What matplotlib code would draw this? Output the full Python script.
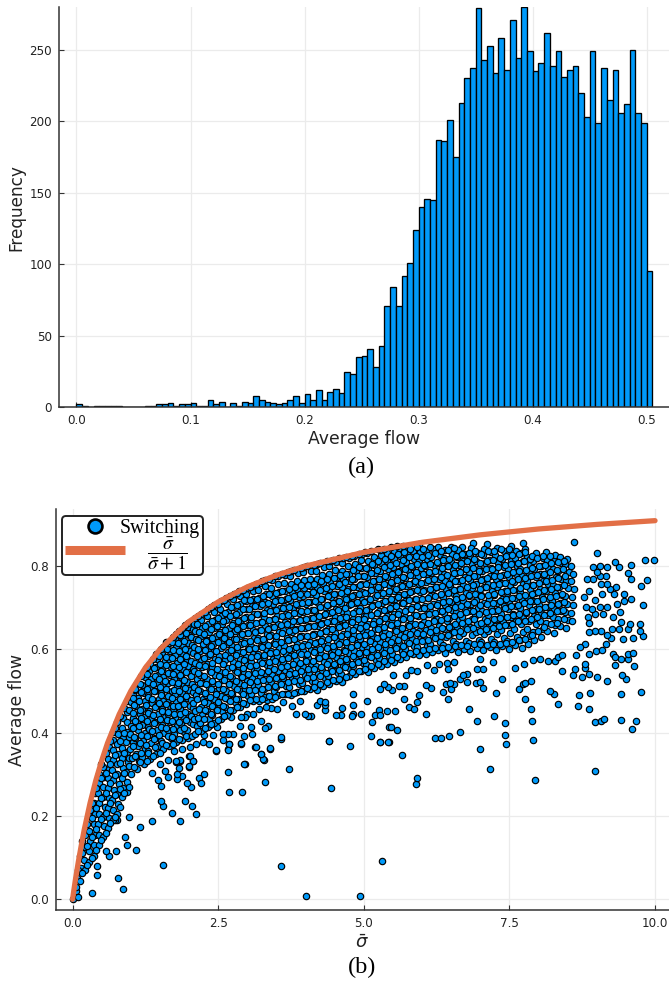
import numpy as np
import matplotlib
matplotlib.use("Agg")
import matplotlib.pyplot as plt
from matplotlib.font_manager import FontProperties
from matplotlib.lines import Line2D

# ---- panel (a): histogram of average flow ----
bin_width = 0.005
counts_low = [2,1,0,1,1,1,1,1,0,0,0,0,1,1,2,2,3,1,2,2,3,1,1,5,2,4,0,3,1,4,3,8,5,4,3,2,3,5,8,3,9,5,12,5,11,13,10,
              25,23,35,36,41,28,43,71,84,71,92,101,124]
counts_high = [140,146,145,187,186,201,175,213,230,237,279,243,253,234,258,236,271,244,280,249,235,241,262,239,249,
               231,236,239,220,203,249,199,237,215,236,206,212,250,206,199,95]
hist_xticks = [0.0, 0.1, 0.2, 0.3, 0.4, 0.5]
hist_yticks = [0, 50, 100, 150, 200, 250]

# ---- panel (b): points, as x*100, y*1000 pairs ----
sparse_low = [0,0, 5,20, 10,5, 33,16, 87,24, 78,52, 42,59, 42,81, 155,83, 357,81, 400,7, 494,7, 532,92,
 109,118, 93,131, 90,150, 75,117, 62,103, 57,115, 116,174, 137,188, 184,187, 170,208, 212,204, 205,224, 193,236,
 156,223, 152,235, 97,197, 77,190, 73,190, 269,257, 291,257, 330,281, 443,266, 266,306, 296,324, 371,314,
 226,300, 217,292, 221,279, 204,269, 196,279, 187,297, 179,288, 179,300, 164,293, 159,308, 152,272, 146,286,
 206,332, 200,344, 200,318, 183,316, 184,332, 177,330, 164,334, 150,325, 137,303, 324,348, 329,334, 339,362,
 314,365, 247,357, 267,360, 269,373, 290,374, 477,369, 441,380, 528,377, 543,377, 358,385]
sparse_mid = [295,325, 327,336, 324,349, 315,366, 339,364, 358,389, 440,381, 513,392, 527,378, 541,378, 543,414,
 514,426, 520,442, 526,454, 528,442, 496,444, 505,475, 482,494, 482,466, 482,444, 479,441, 462,460, 461,442,
 453,442, 434,454, 434,466, 419,466, 425,476, 433,474, 410,441, 405,441, 399,446, 384,445, 390,476, 376,464,
 362,473, 351,457, 340,459, 332,461, 320,456, 336,489, 333,478, 309,446, 300,446, 296,437, 290,437, 324,428,
 335,416, 330,412, 306,414, 308,397, 294,393, 289,376, 287,416, 269,373, 267,358, 247,358, 276,397, 266,398,
 259,397, 259,382, 248,413, 236,418, 272,438, 260,441, 241,394, 235,373, 226,394, 224,378, 212,374, 201,366,
 188,360, 174,356, 201,345, 206,333, 200,321, 185,334, 177,332]
sparse_right = [590,276, 591,290, 566,347, 794,286, 897,308, 717,314, 699,362, 744,374, 742,395, 790,383, 623,387,
 632,388, 647,392, 666,401, 557,407, 546,413, 694,429, 723,439, 742,424, 788,427, 897,426, 908,427, 912,432,
 941,430, 968,428, 961,410, 681,456, 787,456, 607,446, 540,451, 554,451, 578,462, 587,458, 592,474, 595,490,
 569,481, 868,463, 887,458, 833,469, 776,482, 645,481, 976,498, 941,494, 889,495, 870,491, 827,493, 820,501,
 727,496, 636,498, 704,507, 616,508, 606,515, 569,512, 560,512, 548,502, 542,509, 535,517, 528,506, 649,506,
 655,518, 641,517, 648,520, 666,528, 677,521, 692,519, 700,522, 738,530, 767,506, 774,517, 777,520, 787,524,
 918,524, 950,528, 944,538, 901,534, 875,533, 860,538, 862,552, 886,542, 841,548, 880,556, 879,566, 677,542,
 671,538, 759,556, 722,569, 705,554, 694,553, 621,551, 592,548, 581,551, 573,538, 550,538, 609,563, 629,566,
 644,552, 654,570, 642,568, 699,576, 775,564, 790,574, 803,576, 816,572, 829,573, 833,582, 841,586, 865,586,
 886,590, 898,597, 909,598, 928,590, 932,582, 932,563, 942,576, 954,578, 954,590, 963,592, 964,561, 916,613,
 880,614, 871,606, 980,633, 975,644, 975,662, 963,627, 945,625, 925,627, 917,634, 908,645, 897,645, 887,642,
 926,650, 938,650, 954,648, 957,661, 942,666, 928,678, 940,690, 980,706, 935,709, 958,722, 947,716, 946,734,
 930,734, 933,749, 922,746, 976,752, 987,766, 959,768, 953,784, 959,802, 939,798, 932,809, 918,798, 905,801,
 894,798, 901,832, 982,815, 998,815, 861,858, 916,776, 905,776, 894,770, 884,770, 908,758, 900,786, 917,758,
 909,734, 897,718, 905,701, 917,701, 910,686, 897,686, 886,741, 881,702, 891,698, 885,678, 887,664, 878,726,
 668,845, 687,855, 711,854, 752,847, 774,855, 777,842]
cloud_a = [5,30, 7,50, 13,45, 14,75, 12,105, 21,70, 20,95, 22,125, 21,155, 29,90, 28,115, 30,140, 29,165, 28,200, 30,215,
 37,105, 36,130, 38,155, 37,180, 39,205, 36,230, 38,255, 45,130, 46,155, 44,180, 46,205, 45,230, 44,255, 46,280, 45,300,
 53,150, 54,175, 52,198, 55,222, 53,246, 52,270, 54,294, 53,318, 61,170, 62,195, 60,218, 63,242, 61,266, 60,290, 62,314, 61,338, 62,365,
 69,190, 70,214, 68,238, 71,262, 69,286, 68,310, 70,334, 69,358, 70,382, 69,402, 77,205, 78,229, 76,253, 79,277, 77,301, 76,325, 78,349, 77,373, 78,397, 77,425,
 85,245, 86,268, 84,292, 87,316, 85,340, 84,364, 86,388, 85,412, 86,436, 93,258, 94,281, 92,305, 95,329, 93,353, 92,377, 94,401, 93,425, 94,449, 93,475,
 9,70, 17,62, 17,110, 17,140, 25,82, 25,128, 25,180, 33,100, 33,150, 33,196, 33,232, 41,118, 41,168, 41,218, 41,268, 49,142, 49,192, 49,242, 49,292, 49,326,
 57,160, 57,208, 57,256, 57,304, 57,352, 65,182, 65,230, 65,278, 65,326, 65,380, 73,198, 73,250, 73,298, 73,346, 73,412, 81,222, 81,264, 81,328, 81,380, 81,440,
 89,256, 89,304, 89,352, 89,400, 89,460, 97,270, 97,340, 97,390, 97,484]
cloud_b = [100,302, 97,321, 102,339, 99,360, 103,378, 98,398, 101,417, 104,436, 97,455, 100,474, 103,493,
 111,312, 114,331, 109,350, 112,369, 108,388, 113,407, 110,426, 115,445, 109,464, 112,483, 108,502, 111,520,
 122,325, 119,342, 124,362, 121,381, 125,400, 120,419, 123,438, 119,457, 124,476, 122,495, 120,514, 125,533, 122,546,
 133,338, 130,357, 135,376, 132,395, 129,414, 134,433, 131,452, 136,471, 130,490, 133,509, 135,528, 131,547, 133,566,
 144,349, 147,368, 142,387, 145,406, 141,425, 146,444, 143,463, 148,482, 142,501, 145,520, 147,539, 143,558, 145,577, 144,588,
 155,362, 152,381, 157,400, 154,419, 158,438, 153,457, 156,476, 152,495, 157,514, 155,533, 153,552, 158,571, 154,590, 156,606,
 166,368, 169,387, 164,406, 167,425, 163,444, 168,463, 165,482, 170,501, 164,520, 167,539, 169,558, 165,577, 168,596, 166,615,
 177,378, 174,397, 179,416, 176,435, 172,454, 178,473, 175,492, 180,511, 174,530, 177,549, 179,568, 175,587, 178,606, 176,625, 177,637,
 188,382, 191,401, 186,420, 189,439, 185,458, 190,477, 187,496, 192,515, 186,534, 189,553, 191,572, 187,591, 190,610, 188,629, 187,650,
 199,388, 196,407, 201,426, 198,445, 202,464, 197,483, 200,502, 196,521, 201,540, 199,559, 197,578, 202,597, 198,616, 200,635, 199,654, 198,664]
cloud_b2 = [105,318, 107,345, 103,368, 106,389, 104,411, 107,429, 103,447, 106,466, 104,484, 107,505,
 116,330, 118,352, 115,375, 117,394, 114,416, 118,436, 116,454, 114,475, 117,498, 115,517, 117,536,
 127,333, 129,352, 126,371, 128,391, 131,409, 127,428, 129,447, 126,466, 130,485, 127,505, 129,522, 127,541, 128,558,
 138,345, 141,366, 139,385, 137,405, 140,424, 138,443, 141,461, 137,480, 140,499, 138,518, 141,537, 139,556, 138,578,
 150,352, 153,376, 149,395, 152,414, 150,433, 153,452, 149,471, 152,490, 150,509, 148,528, 152,547, 150,566, 149,585, 151,600,
 161,371, 163,392, 160,411, 162,430, 164,449, 160,468, 163,487, 161,506, 159,525, 163,544, 161,563, 160,582, 162,601, 161,617,
 172,372, 171,389, 173,410, 171,427, 174,446, 172,465, 170,484, 174,503, 171,522, 173,541, 172,560, 170,579, 173,598, 171,617, 172,630,
 183,386, 185,406, 182,425, 184,444, 181,463, 185,482, 183,501, 181,520, 184,539, 182,558, 185,577, 183,596, 181,615, 184,634, 183,645,
 194,392, 192,412, 195,431, 193,450, 191,469, 195,488, 193,507, 191,526, 194,545, 192,564, 195,583, 193,602, 191,621, 194,640, 193,658,
 205,393, 207,421, 204,440, 206,459, 203,478, 207,497, 205,516, 203,535, 206,554, 204,573, 207,592, 205,611, 203,630, 206,649, 205,668]
cloud_c = [210,396, 213,415, 208,434, 211,453, 207,472, 212,491, 209,510, 214,529, 208,548, 211,567, 213,586, 209,605, 212,624, 210,643, 209,662, 211,675,
 221,405, 218,424, 223,443, 220,462, 224,481, 219,500, 222,519, 218,538, 223,557, 221,576, 219,595, 224,614, 220,633, 222,652, 221,671, 220,686,
 232,414, 235,433, 230,452, 233,471, 229,490, 234,509, 231,528, 236,547, 230,566, 233,585, 235,604, 231,623, 234,642, 232,661, 231,680, 233,697,
 243,424, 240,443, 245,462, 242,481, 246,500, 241,519, 244,538, 240,557, 245,576, 243,595, 241,614, 246,633, 242,652, 244,671, 243,690, 242,706,
 254,432, 257,451, 252,470, 255,489, 251,508, 256,527, 253,546, 258,565, 252,584, 255,603, 257,622, 253,641, 256,660, 254,679, 253,698, 255,715,
 265,442, 262,461, 267,480, 264,499, 268,518, 263,537, 266,556, 262,575, 267,594, 265,613, 263,632, 268,651, 264,670, 266,689, 265,708, 264,724,
 276,455, 279,474, 274,493, 277,512, 273,531, 278,550, 275,569, 280,588, 274,607, 277,626, 279,645, 275,664, 278,683, 276,702, 275,721, 277,732,
 287,462, 284,481, 289,500, 286,519, 290,538, 285,557, 288,576, 284,595, 289,614, 287,633, 285,652, 290,671, 286,690, 288,709, 287,728, 286,740,
 298,468, 301,487, 296,506, 299,525, 295,544, 300,563, 297,582, 302,601, 296,620, 299,639, 301,658, 297,677, 300,696, 298,715, 297,734, 299,747]
cloud_c2 = [216,403, 215,435, 217,458, 214,481, 216,502, 218,520, 215,544, 217,563, 214,583, 216,601, 215,622, 217,641, 214,660, 216,680,
 227,412, 226,433, 228,455, 225,474, 227,495, 229,517, 226,536, 228,559, 225,579, 227,598, 229,619, 226,638, 228,657, 227,690,
 238,421, 237,444, 239,465, 236,486, 238,505, 240,523, 237,545, 239,568, 236,589, 238,608, 240,627, 237,648, 239,667, 238,701,
 249,430, 248,454, 250,473, 247,494, 249,516, 251,535, 248,554, 250,575, 247,597, 249,618, 251,637, 248,656, 250,675, 249,710,
 260,441, 259,463, 261,484, 258,505, 260,526, 262,545, 259,566, 261,587, 258,608, 260,627, 262,646, 259,667, 261,688, 260,719,
 271,455, 270,476, 272,495, 269,516, 271,537, 273,558, 270,579, 272,598, 269,617, 271,638, 273,659, 270,680, 272,701, 271,727,
 282,462, 281,481, 283,505, 280,524, 282,545, 284,566, 281,587, 283,606, 280,625, 282,648, 284,667, 281,686, 283,707, 282,735,
 293,472, 292,493, 294,514, 291,533, 293,556, 295,575, 292,594, 294,615, 291,636, 293,657, 295,676, 292,697, 294,718, 293,743]
cloud_d = [309,475, 306,494, 311,513, 308,532, 312,551, 307,570, 310,589, 306,608, 311,627, 309,646, 307,665, 312,684, 308,703, 310,722, 309,741, 308,753,
 320,476, 323,495, 318,514, 321,533, 317,552, 322,571, 319,590, 324,609, 318,628, 321,647, 323,666, 319,685, 322,704, 320,723, 319,742, 321,760,
 331,486, 328,505, 333,524, 330,543, 334,562, 329,581, 332,600, 328,619, 333,638, 331,657, 329,676, 334,695, 330,714, 332,733, 331,752, 330,766,
 342,482, 345,501, 340,520, 343,539, 339,558, 344,577, 341,596, 346,615, 340,634, 343,653, 345,672, 341,691, 344,710, 342,729, 341,748, 343,767,
 353,490, 350,509, 355,528, 352,547, 356,566, 351,585, 354,604, 350,623, 355,642, 353,661, 351,680, 356,699, 352,718, 354,737, 353,756, 352,775,
 364,494, 367,513, 362,532, 365,551, 361,570, 366,589, 363,608, 368,627, 362,646, 365,665, 367,684, 363,703, 366,722, 364,741, 363,760, 365,779,
 375,490, 372,509, 377,528, 374,547, 378,566, 373,585, 376,604, 372,623, 377,642, 375,661, 373,680, 378,699, 374,718, 376,737, 375,756, 374,775, 375,787,
 386,498, 389,517, 384,536, 387,555, 383,574, 388,593, 385,612, 390,631, 384,650, 387,669, 389,688, 385,707, 388,726, 386,745, 385,764, 387,783,
 397,500, 394,519, 399,538, 396,557, 400,576, 395,595, 398,614, 394,633, 399,652, 397,671, 395,690, 400,709, 396,728, 398,747, 397,766, 396,785, 398,797]
cloud_d2 = [304,478, 303,503, 305,522, 302,541, 304,560, 306,581, 303,600, 305,619, 302,640, 304,659, 306,678, 303,697, 305,718, 304,750,
 315,482, 314,503, 316,524, 313,543, 315,562, 317,583, 314,604, 316,623, 313,642, 315,663, 317,684, 314,703, 316,722, 315,757,
 326,481, 325,506, 327,527, 324,546, 326,567, 328,586, 325,605, 327,626, 324,647, 326,666, 328,687, 325,708, 327,727, 326,763,
 337,488, 336,509, 338,528, 335,549, 337,570, 339,591, 336,610, 338,631, 335,650, 337,671, 339,692, 336,711, 338,732, 337,769,
 348,486, 347,511, 349,532, 346,553, 348,572, 350,593, 347,614, 349,633, 346,654, 348,673, 350,694, 347,715, 349,736, 348,775,
 359,492, 358,517, 360,536, 357,557, 359,578, 361,597, 358,618, 360,639, 357,658, 359,679, 361,700, 358,719, 360,740, 359,780,
 370,492, 369,521, 371,542, 368,561, 370,580, 372,601, 369,622, 371,643, 368,662, 370,683, 372,702, 369,723, 371,744, 370,785,
 381,496, 380,523, 382,544, 379,565, 381,586, 383,605, 380,626, 382,647, 379,668, 381,687, 383,708, 380,729, 382,750, 381,790,
 392,500, 391,527, 393,548, 390,567, 392,588, 394,609, 391,630, 393,651, 390,670, 392,691, 394,712, 391,733, 393,754, 392,795]
cloud_e = [408,504, 411,523, 406,542, 409,561, 405,580, 410,599, 407,618, 412,637, 406,656, 409,675, 411,694, 407,713, 410,732, 408,751, 407,770, 409,789,
 419,503, 416,522, 421,541, 418,560, 422,579, 417,598, 420,617, 416,636, 421,655, 419,674, 417,693, 422,712, 418,731, 420,750, 419,769, 418,788, 420,805,
 430,512, 433,531, 428,550, 431,569, 427,588, 432,607, 429,626, 434,645, 428,664, 431,683, 433,702, 429,721, 432,740, 430,759, 429,778, 431,797,
 441,516, 438,535, 443,554, 440,573, 444,592, 439,611, 442,630, 438,649, 443,668, 441,687, 439,706, 444,725, 440,744, 442,763, 441,782, 440,801, 442,813,
 452,525, 455,544, 450,563, 453,582, 449,601, 454,620, 451,639, 456,658, 450,677, 453,696, 455,715, 451,734, 454,753, 452,772, 451,791, 453,810,
 463,522, 460,541, 465,560, 462,579, 466,598, 461,617, 464,636, 460,655, 465,674, 463,693, 461,712, 466,731, 462,750, 464,769, 463,788, 462,807, 464,820,
 474,535, 477,554, 472,573, 475,592, 471,611, 476,630, 473,649, 478,668, 472,687, 475,706, 477,725, 473,744, 476,763, 474,782, 473,801, 475,820,
 485,540, 482,559, 487,578, 484,597, 488,616, 483,635, 486,654, 482,673, 487,692, 485,711, 483,730, 488,749, 484,768, 486,787, 485,806, 484,825,
 496,548, 499,567, 494,586, 497,605, 493,624, 498,643, 495,662, 500,681, 494,700, 497,719, 499,738, 495,757, 498,776, 496,795, 495,814, 497,830]
cloud_e2 = [403,508, 402,531, 404,552, 401,571, 403,590, 405,611, 402,632, 404,653, 401,672, 403,693, 405,714, 402,733, 404,754, 403,799,
 414,510, 413,533, 415,552, 412,573, 414,594, 416,615, 413,634, 415,655, 412,676, 414,695, 416,716, 413,737, 415,758, 414,803,
 425,518, 424,537, 426,558, 423,579, 425,600, 427,619, 424,640, 426,661, 423,680, 425,701, 427,722, 424,743, 426,764, 425,808,
 436,521, 435,544, 437,565, 434,584, 436,603, 438,624, 435,645, 437,666, 434,685, 436,706, 438,727, 435,748, 437,769, 436,811,
 447,526, 446,547, 448,566, 445,587, 447,608, 449,629, 446,650, 448,669, 445,690, 447,711, 449,732, 446,751, 448,772, 447,815,
 458,530, 457,551, 459,572, 456,593, 458,612, 460,633, 457,654, 459,675, 456,694, 458,715, 460,736, 457,757, 459,778, 458,819,
 469,533, 468,558, 470,577, 467,596, 469,617, 471,638, 468,659, 470,678, 467,699, 469,720, 471,741, 468,762, 470,781, 469,822,
 480,546, 479,565, 481,584, 478,605, 480,626, 482,647, 479,666, 481,687, 478,708, 480,729, 482,750, 479,769, 481,790, 480,825,
 491,549, 490,570, 492,591, 489,610, 491,631, 493,652, 490,673, 492,692, 489,713, 491,734, 493,755, 490,776, 492,797, 491,828]
cloud_f = [507,546, 504,565, 509,584, 506,603, 510,622, 505,641, 508,660, 504,679, 509,698, 507,717, 505,736, 510,755, 506,774, 508,793, 507,812, 506,831,
 518,555, 521,574, 516,593, 519,612, 515,631, 520,650, 517,669, 522,688, 516,707, 519,726, 521,745, 517,764, 520,783, 518,802, 517,821,
 529,560, 526,579, 531,598, 528,617, 532,636, 527,655, 530,674, 526,693, 531,712, 529,731, 527,750, 532,769, 528,788, 530,807, 529,826, 528,838,
 540,565, 543,584, 538,603, 541,622, 537,641, 542,660, 539,679, 544,698, 538,717, 541,736, 543,755, 539,774, 542,793, 540,812, 539,831,
 551,570, 548,589, 553,608, 550,627, 554,646, 549,665, 552,684, 548,703, 553,722, 551,741, 549,760, 554,779, 550,798, 552,817, 551,836,
 562,578, 565,597, 560,616, 563,635, 559,654, 564,673, 561,692, 566,711, 560,730, 563,749, 565,768, 561,787, 564,806, 562,825, 561,844,
 573,582, 570,601, 575,620, 572,639, 576,658, 571,677, 574,696, 570,715, 575,734, 573,753, 571,772, 576,791, 572,810, 574,829, 573,846,
 584,588, 587,607, 582,626, 585,645, 581,664, 586,683, 583,702, 588,721, 582,740, 585,759, 587,778, 583,797, 586,816, 584,835,
 595,586, 592,605, 597,624, 594,643, 598,662, 593,681, 596,700, 592,719, 597,738, 595,757, 593,776, 598,795, 594,814, 596,833, 595,852]
cloud_f2 = [502,552, 501,575, 503,594, 500,613, 502,634, 504,655, 501,674, 503,695, 500,714, 502,735, 504,756, 501,777, 503,796, 502,834,
 513,560, 512,581, 514,602, 511,621, 513,640, 515,661, 512,682, 514,703, 511,722, 513,743, 515,764, 512,783, 514,804, 513,836,
 524,566, 523,587, 525,606, 522,627, 524,648, 526,667, 523,688, 525,709, 522,730, 524,749, 526,770, 523,791, 525,812, 524,840,
 535,572, 534,591, 536,612, 533,633, 535,654, 537,675, 534,694, 536,715, 533,736, 535,757, 537,776, 534,797, 536,818, 535,842,
 546,575, 545,598, 547,617, 544,638, 546,659, 548,678, 545,699, 547,720, 544,741, 546,762, 548,781, 545,802, 547,823, 546,845,
 557,582, 556,603, 558,622, 555,643, 557,664, 559,685, 556,704, 558,725, 555,746, 557,767, 559,786, 556,807, 558,828, 557,847,
 568,590, 567,609, 569,630, 566,651, 568,672, 570,691, 567,712, 569,733, 566,752, 568,773, 570,794, 567,815, 569,834, 568,849,
 579,592, 578,615, 580,636, 577,655, 579,676, 581,697, 578,718, 580,737, 577,758, 579,779, 581,800, 578,821, 580,840,
 590,596, 589,621, 591,640, 588,661, 590,682, 592,703, 589,722, 591,743, 588,764, 590,785, 592,804, 589,825, 591,846]
cloud_g = [606,590, 609,609, 604,628, 607,647, 603,666, 608,685, 605,704, 610,723, 604,742, 607,761, 609,780, 605,799, 608,818, 606,837,
 617,594, 614,613, 619,632, 616,651, 620,670, 615,689, 618,708, 614,727, 619,746, 617,765, 615,784, 620,803, 616,822, 618,841,
 628,598, 631,617, 626,636, 629,655, 625,674, 630,693, 627,712, 632,731, 626,750, 629,769, 631,788, 627,807, 630,826, 628,845,
 639,592, 636,611, 641,630, 638,649, 642,668, 637,687, 640,706, 636,725, 641,744, 639,763, 637,782, 642,801, 638,820, 640,839,
 650,600, 653,619, 648,638, 651,657, 647,676, 652,695, 649,714, 654,733, 648,752, 651,771, 653,790, 649,809, 652,828, 650,845,
 661,594, 658,613, 663,632, 660,651, 664,670, 659,689, 662,708, 658,727, 663,746, 661,765, 659,784, 664,803, 660,822, 662,838,
 672,602, 675,621, 670,640, 673,659, 669,678, 674,697, 671,716, 676,735, 670,754, 673,773, 675,792, 671,811, 674,830,
 683,596, 680,615, 685,634, 682,653, 686,672, 681,691, 684,710, 680,729, 685,748, 683,767, 681,786, 686,805, 682,824, 684,843,
 694,604, 697,623, 692,642, 695,661, 691,680, 696,699, 693,718, 698,737, 692,756, 695,775, 697,794, 693,813, 696,832]
cloud_g2 = [601,598, 600,619, 602,638, 599,659, 601,680, 603,699, 600,720, 602,741, 599,760, 601,781, 603,802, 600,821, 602,842,
 612,602, 611,623, 613,642, 610,663, 612,684, 614,705, 611,724, 613,745, 610,766, 612,785, 614,806, 611,827, 613,846,
 623,604, 622,627, 624,646, 621,667, 623,688, 625,707, 622,728, 624,749, 621,770, 623,789, 625,810, 622,831,
 634,604, 633,631, 635,652, 632,671, 634,692, 636,713, 633,732, 635,753, 632,774, 634,795, 636,814, 633,835,
 645,606, 644,635, 646,654, 643,675, 645,696, 647,717, 644,736, 646,757, 643,778, 645,799, 647,818, 644,839,
 656,608, 655,641, 657,660, 654,681, 656,702, 658,721, 655,742, 657,763, 654,784, 656,803, 658,824, 655,843,
 667,610, 666,643, 668,664, 665,685, 667,704, 669,725, 666,746, 668,767, 665,786, 667,807, 669,828,
 678,608, 677,649, 679,668, 676,689, 678,710, 680,731, 677,750, 679,771, 676,792, 678,813, 680,832,
 689,612, 688,651, 690,672, 687,693, 689,714, 691,733, 688,754, 690,775, 687,796, 689,817, 691,836]
cloud_h = [705,598, 702,617, 707,636, 704,655, 708,674, 703,693, 706,712, 702,731, 707,750, 705,769, 703,788, 708,807, 704,826, 706,842,
 716,606, 719,625, 714,644, 717,663, 713,682, 718,701, 715,720, 720,739, 714,758, 717,777, 719,796, 715,815, 718,834,
 727,598, 724,617, 729,636, 726,655, 730,674, 725,693, 728,712, 724,731, 729,750, 727,769, 725,788, 730,807, 726,826, 728,843,
 738,608, 741,627, 736,646, 739,665, 735,684, 740,703, 737,722, 742,741, 736,760, 739,779, 741,798, 737,817, 740,836,
 749,602, 746,621, 751,640, 748,659, 752,678, 747,697, 750,716, 746,735, 751,754, 749,773, 747,792, 752,811, 748,830, 750,842,
 760,610, 763,629, 758,648, 761,667, 757,686, 762,705, 759,724, 764,743, 758,762, 761,781, 763,800, 759,819, 762,836,
 771,604, 768,623, 773,642, 770,661, 774,680, 769,699, 772,718, 768,737, 773,756, 771,775, 769,794, 774,813, 770,832,
 782,612, 785,631, 780,650, 783,669, 779,688, 784,707, 781,726, 786,745, 780,764, 783,783, 785,802, 781,821,
 793,622, 790,641, 795,660, 792,679, 796,698, 791,717, 794,736, 790,755, 795,774, 793,793, 791,812, 796,831,
 804,630, 807,649, 802,668, 805,687, 801,706, 806,725, 803,744, 808,763, 802,782, 805,801, 807,820,
 815,644, 812,663, 817,682, 814,701, 818,720, 813,739, 816,758, 812,777, 817,796, 815,815, 813,834,
 826,640, 829,659, 824,678, 827,697, 823,716, 828,735, 825,754, 830,773, 824,792, 827,811, 829,826,
 837,655, 834,674, 839,693, 836,712, 840,731, 835,750, 838,769, 834,788, 839,807, 837,822,
 848,652, 851,671, 846,690, 849,709, 845,728, 850,747, 847,766, 852,785, 846,804, 849,818,
 858,668, 855,687, 860,706, 857,725, 861,744, 856,763, 859,782, 855,801]
cloud_h2 = [700,612, 699,645, 701,664, 698,685, 700,706, 702,727, 699,746, 701,767, 698,788, 700,807, 702,828,
 711,610, 710,649, 712,668, 709,689, 711,710, 713,731, 710,750, 712,771, 709,792, 711,813, 713,836,
 722,612, 721,651, 723,672, 720,693, 722,712, 724,733, 721,754, 723,775, 720,794, 722,815, 724,836,
 733,614, 732,655, 734,676, 731,695, 733,716, 735,737, 732,758, 734,777, 731,798, 733,819, 735,840,
 744,616, 743,659, 745,678, 742,699, 744,720, 746,741, 743,760, 745,781, 742,802, 744,823,
 755,618, 754,661, 756,682, 753,703, 755,724, 757,743, 754,764, 756,785, 753,806, 755,827,
 766,622, 765,667, 767,686, 764,707, 766,728, 768,747, 765,768, 767,789, 764,808, 766,829,
 777,626, 776,669, 778,690, 775,711, 777,730, 779,751, 776,772, 778,791, 775,812, 777,833,
 788,634, 787,673, 789,694, 786,715, 788,734, 790,755, 787,776, 789,795, 786,816, 788,825,
 799,644, 798,677, 800,698, 797,717, 799,738, 801,759, 798,778, 800,799, 797,820,
 810,654, 809,683, 811,702, 808,721, 810,742, 812,763, 809,782, 811,803, 808,824,
 821,660, 820,687, 822,706, 819,725, 821,746, 823,767, 820,786, 822,807, 819,824,
 832,664, 831,691, 833,710, 830,729, 832,750, 834,771, 831,790, 833,809,
 843,672, 842,695, 844,714, 841,733, 843,754, 845,775, 842,794, 844,813]
curve_x = [0, .02, .05, .1, .15, .2, .3, .4, .5, .6, .8, 1, 1.25, 1.5, 2, 2.5, 3, 3.5, 4, 5, 6, 7, 8, 9, 10]
curve_y = [0, .02, .048, .091, .13, .167, .231, .286, .333, .375, .444, .5, .556, .6, .667, .714, .75, .778, .8, .833,
           .857, .875, .889, .9, .909]
scatter_xticks = [0.0, 2.5, 5.0, 7.5, 10.0]
scatter_yticks = [0.0, 0.2, 0.4, 0.6, 0.8]

BLUE = "#009AFA"
ORANGE = "#E26F46"
W, H = 669, 983

def style(ax):
    ax.spines["top"].set_visible(False)
    ax.spines["right"].set_visible(False)
    for s in ("left", "bottom"):
        ax.spines[s].set_linewidth(1.1)
        ax.spines[s].set_color("#333333")
    ax.grid(True, color="#ebebeb", linewidth=0.9)
    ax.set_axisbelow(True)
    ax.tick_params(direction="in", length=3.6, width=0.8, labelsize=8.6, color="#333333",
                   labelcolor="#222222", pad=5)

fig = plt.figure(figsize=(W / 100, H / 100), dpi=100)

# panel (a)
ax1 = fig.add_axes([59 / W, 1 - 407.3 / H, (W - 59) / W, 400.3 / H])
counts = np.array(counts_low + counts_high)
edges = np.arange(len(counts)) * bin_width
ax1.bar(edges, counts, width=bin_width, align="edge", color=BLUE, edgecolor="black", linewidth=0.95)
ax1.set_xlim(-0.0153, 0.5195)
ax1.set_ylim(0, 280)
ax1.set_xticks(hist_xticks)
ax1.set_xticklabels([f"{t:.1f}" for t in hist_xticks])
ax1.set_yticks(hist_yticks)
style(ax1)
ax1.set_xlabel("Average flow", fontsize=12.4, color="#222222", labelpad=2)
ax1.set_ylabel("Frequency", fontsize=12.2, color="#222222", labelpad=3)
fig.text(361 / W, 1 - 467 / H, "(a)", family="Liberation Serif", fontsize=17.5, ha="center", va="center")

# panel (b)
ax2 = fig.add_axes([55.7 / W, 1 - 910 / H, (W - 55.7) / W, 401 / H])
clouds = np.array(sparse_low + sparse_mid + sparse_right + cloud_a + cloud_b + cloud_b2 + cloud_c + cloud_c2
                  + cloud_d + cloud_d2 + cloud_e + cloud_e2 + cloud_f + cloud_f2 + cloud_g + cloud_g2
                  + cloud_h + cloud_h2, dtype=float)
ax2.scatter(clouds[0::2] / 100, clouds[1::2] / 1000, s=21, color=BLUE, edgecolor="black", linewidth=0.85,
            zorder=2, label="Switching")
ax2.plot(curve_x, curve_y, color=ORANGE, linewidth=3.8, solid_capstyle="round", zorder=3)
ax2.set_xlim(-0.29, 10.24)
ax2.set_ylim(-0.0257, 0.937)
ax2.set_xticks(scatter_xticks)
ax2.set_xticklabels([f"{t:.1f}" for t in scatter_xticks])
ax2.set_yticks(scatter_yticks)
style(ax2)
ax2.set_xlabel(r"$\bar{\sigma}$", fontsize=13, color="#222222", labelpad=3)
ax2.set_ylabel("Average flow", fontsize=12.4, color="#222222", labelpad=3)
fig.text(362 / W, 1 - 967.5 / H, "(b)", family="Liberation Serif", fontsize=17.5, ha="center", va="center")

marker_handle = Line2D([], [], linestyle="none", marker="o", markersize=10, markerfacecolor=BLUE,
                       markeredgecolor="black", markeredgewidth=1.9)
line_handle = Line2D([], [], color=ORANGE, linewidth=6.5, solid_capstyle="butt")
prop = FontProperties(family="Liberation Serif", size=14.2, math_fontfamily="stix")
leg = ax2.legend([marker_handle, line_handle], ["Switching", r"$\dfrac{\bar{\sigma}}{\bar{\sigma}+1}$"],
                 loc="upper left", bbox_to_anchor=(62 / W, 1 - 515.7 / H), bbox_transform=fig.transFigure,
                 borderaxespad=0, prop=prop, handlelength=3.05, handletextpad=-0.27, borderpad=0.15, labelspacing=-0.1,
                 frameon=True, fancybox=True, framealpha=1, edgecolor="#222222")
leg.get_frame().set_linewidth(1.4)
leg.get_texts()[1].set_position((27, 0))
leg.set_zorder(5)

fig.savefig("out.png", dpi=100)
